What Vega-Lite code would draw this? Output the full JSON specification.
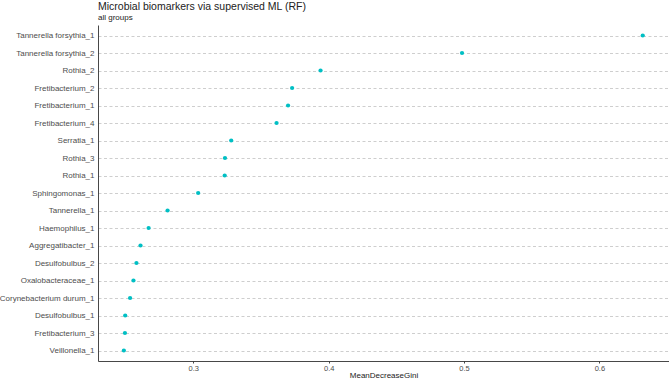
{
  "$schema": "https://vega.github.io/schema/vega-lite/v6.json",
  "width": 571,
  "height": 336,
  "autosize": {"type": "none"},
  "padding": {"left": 98, "top": 25, "right": 0, "bottom": 20},
  "background": "white",
  "title": {
    "text": "Microbial biomarkers via supervised ML (RF)",
    "subtitle": "all groups",
    "anchor": "start",
    "frame": "group",
    "font": "Liberation Sans",
    "fontSize": 10.5,
    "fontWeight": "normal",
    "color": "#222222",
    "subtitleFont": "Liberation Sans",
    "subtitleFontSize": 8,
    "subtitleColor": "#222222",
    "subtitlePadding": 2,
    "offset": 3
  },
  "data": {
    "values": [
      {"taxon": "Tannerella forsythia_1", "gini": 0.632},
      {"taxon": "Tannerella forsythia_2", "gini": 0.4985},
      {"taxon": "Rothia_2", "gini": 0.394},
      {"taxon": "Fretibacterium_2", "gini": 0.373},
      {"taxon": "Fretibacterium_1", "gini": 0.370},
      {"taxon": "Fretibacterium_4", "gini": 0.3615},
      {"taxon": "Serratia_1", "gini": 0.328},
      {"taxon": "Rothia_3", "gini": 0.3234},
      {"taxon": "Rothia_1", "gini": 0.3232},
      {"taxon": "Sphingomonas_1", "gini": 0.3036},
      {"taxon": "Tannerella_1", "gini": 0.281},
      {"taxon": "Haemophilus_1", "gini": 0.267},
      {"taxon": "Aggregatibacter_1", "gini": 0.261},
      {"taxon": "Desulfobulbus_2", "gini": 0.258},
      {"taxon": "Oxalobacteraceae_1", "gini": 0.2558},
      {"taxon": "Corynebacterium durum_1", "gini": 0.2533},
      {"taxon": "Desulfobulbus_1", "gini": 0.2497},
      {"taxon": "Fretibacterium_3", "gini": 0.2495},
      {"taxon": "Veillonella_1", "gini": 0.2487}
    ]
  },
  "mark": {"type": "circle", "size": 18, "opacity": 1, "color": "#00BFC4"},
  "encoding": {
    "x": {
      "field": "gini",
      "type": "quantitative",
      "scale": {"domain": [0.2296, 0.6514], "nice": false, "zero": false},
      "axis": {
        "title": "MeanDecreaseGini",
        "values": [0.3, 0.4, 0.5, 0.6],
        "format": ".1f",
        "grid": false,
        "domainColor": "#333333",
        "domainWidth": 0.9,
        "tickColor": "#333333",
        "tickWidth": 0.9,
        "tickSize": 2,
        "labelFont": "Liberation Sans",
        "labelFontSize": 7.5,
        "labelColor": "#4d4d4d",
        "labelPadding": 1,
        "titleFont": "Liberation Sans",
        "titleFontSize": 8,
        "titleFontWeight": "normal",
        "titleColor": "#222222",
        "titlePadding": 0
      }
    },
    "y": {
      "field": "taxon",
      "type": "nominal",
      "sort": null,
      "scale": {"padding": 0.6},
      "axis": {
        "title": null,
        "grid": true,
        "gridColor": "#c8c8c8",
        "gridWidth": 0.9,
        "gridDash": [3, 2.5],
        "ticks": false,
        "domainColor": "#333333",
        "domainWidth": 0.9,
        "labelFont": "Liberation Sans",
        "labelFontSize": 8,
        "labelColor": "#4d4d4d",
        "labelPadding": 4
      }
    }
  },
  "config": {"view": {"stroke": null}}
}
